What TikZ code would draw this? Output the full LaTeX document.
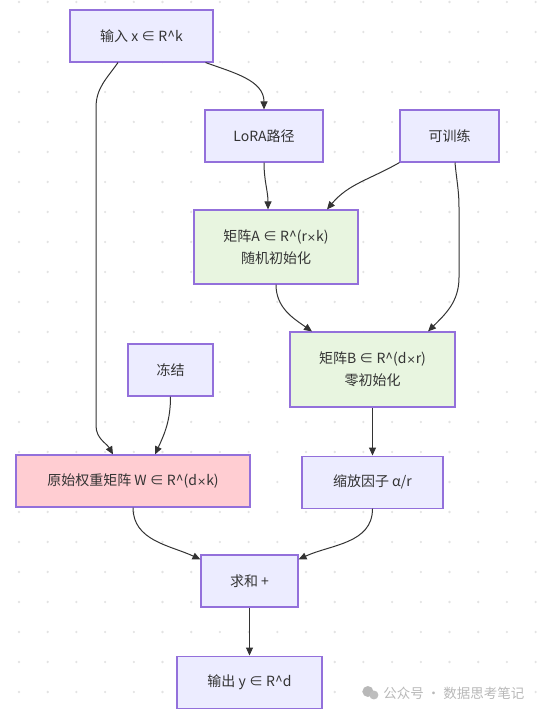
\documentclass[tikz,border=0pt]{standalone}
\usepackage{fontspec}
\setmainfont{Noto Sans CJK SC}
\newfontfamily\symfont{DejaVu Sans}
\usetikzlibrary{arrows.meta,positioning}

\definecolor{boxfill}{HTML}{ECECFF}
\definecolor{boxline}{HTML}{9370DB}
\definecolor{lorafill}{HTML}{E8F5E0}
\definecolor{frozenfill}{HTML}{FFCDD2}
\definecolor{edgec}{HTML}{333333}
\definecolor{dotc}{HTML}{E3E3E3}
\definecolor{markc}{HTML}{B8B8B8}

\newcommand{\by}{{\symfont\fontsize{11}{14}\selectfont ×}}

\begin{document}
\begin{tikzpicture}[
        x=1pt, y=1pt,
        every node/.style={
            font=\fontsize{14}{22}\selectfont,
            text=edgec
        },
        main node/.style={
            rectangle,
            draw=boxline,
            line width=1.1pt,
            fill=boxfill,
            minimum height=52pt,
            align=center
        },
        lora node/.style={
            main node,
            fill=lorafill,
            minimum height=74pt
        },
        pil/.style={
            draw=edgec,
            line width=1pt,
            -{Triangle[length=8pt,width=7pt]}
        }
    ]
    \useasboundingbox (0,0) rectangle (546,717);
    % background dots
    \foreach \i in {0,...,18}
        \foreach \j in {0,...,23}
            \fill[dotc] (19+28.7*\i, 715-30*\j) circle (1.3);

    \node[main node, minimum width=143pt] (input) at (141.5,681) {输入 x ∈ R\textasciicircum k};
    \node[main node, minimum width=118pt] (lora) at (264,581) {LoRA路径};
    \node[main node, minimum width=99pt] (train) at (449.5,581) {可训练};
    \node[lora node, minimum width=164pt] (matA) at (276,470) {矩阵A ∈ R\textasciicircum(r\by k)\\随机初始化};
    \node[main node, minimum width=85pt] (freeze) at (170.5,347) {冻结};
    \node[lora node, minimum width=165pt, minimum height=75pt] (matB) at (372.5,347.5) {矩阵B ∈ R\textasciicircum(d\by r)\\零初始化};
    \node[main node, minimum width=234pt, fill=frozenfill] (weight) at (133,236) {原始权重矩阵 W ∈ R\textasciicircum(d\by k)};
    \node[main node, minimum width=141pt, below=48pt of matB] (scale) {缩放因子 α/r};
    \node[main node, minimum width=97pt] (sum) at (249.5,136) {求和 +};
    \node[main node, minimum width=145pt, below=48pt of sum] (output) {输出 y ∈ R\textasciicircum d};

    \draw[pil] ([xshift=-23.5pt]input.south) to[out=-125,in=90] ++(-22,-45)
        -- ++(0,-318) to[out=-90,in=120] ([xshift=-20pt]weight.north);
    \draw[pil] ([xshift=-8pt]input.south east) to[out=-20,in=90] (lora.north);
    \draw[pil] (lora.south) to[out=-90,in=90] ([xshift=-8pt]matA.north);
    \draw[pil] (train.south west) to[out=-150,in=50] ([xshift=51pt]matA.north);
    \draw[pil] ([xshift=5.5pt]train.south) to[out=-85,in=90] ++(4,-45)
        -- ++(0,-70) to[out=-90,in=45] ([xshift=55.5pt]matB.north);
    \draw[pil] (matA.south) to[out=-90,in=145] ([xshift=-60.5pt]matB.north);
    \draw[pil] (freeze.south) to[out=-90,in=65] ([xshift=22pt]weight.north);
    \draw[pil] (matB.south) -- (scale.north);
    \draw[pil] (weight.south) to[out=-90,in=155] ([yshift=-5pt]sum.north west);
    \draw[pil] (scale.south) to[out=-90,in=25] ([yshift=-5pt]sum.north east);
    \draw[pil] (sum.south) -- (output.north);

    % watermark
    \node[anchor=east, text=markc, font=\fontsize{13.5}{16}\selectfont] (wmark) at (528,24) {公众号 · 数据思考笔记};
    \fill[markc] ([xshift=-12pt,yshift=1.5pt]wmark.west) circle (5.5);
    \fill[markc!80!black!60] ([xshift=-6pt,yshift=-2pt]wmark.west) circle (4.5);
\end{tikzpicture}
\end{document}
